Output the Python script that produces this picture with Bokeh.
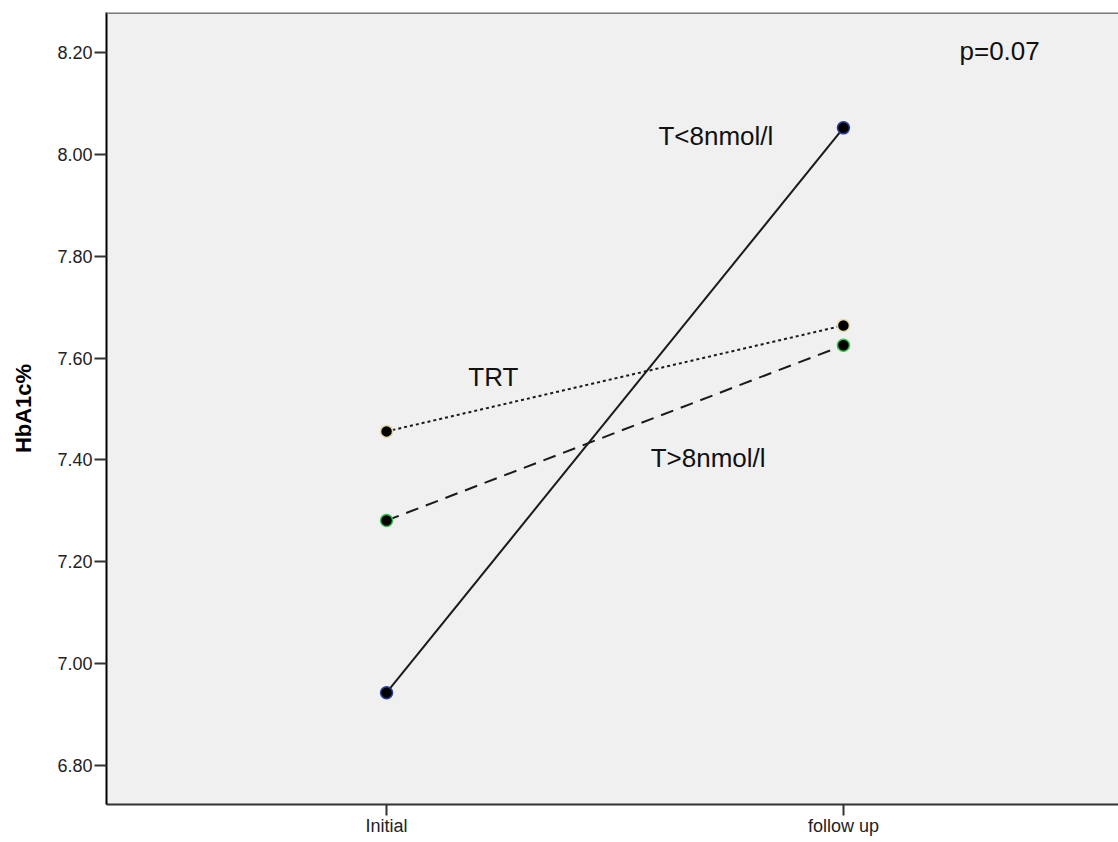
from bokeh.plotting import figure
from bokeh.models import FixedTicker, Range1d, NumeralTickFormatter, Span, ColumnDataSource
from bokeh.core.properties import value
from bokeh.embed import file_html
from bokeh.resources import INLINE

# ---- data ----
timepoints = ["Initial", "follow up"]
y_ticks = [6.80, 7.00, 7.20, 7.40, 7.60, 7.80, 8.00, 8.20]
t_low = [6.943, 8.052]      # T<8nmol/l
trt = [7.456, 7.664]        # TRT
t_high = [7.281, 7.625]     # T>8nmol/l
p_label = "p=0.07"
series_names = ["T<8nmol/l", "TRT", "T>8nmol/l"]

# label anchor positions (x in category index units, y in data units)
label_x = [0.595, 0.179, 0.578, 1.254]
label_y = [8.036, 7.563, 7.404, 8.202]

xs = list(range(len(timepoints)))

p = figure(width=1118, height=842, output_backend="svg", toolbar_location=None,
           x_range=Range1d(-0.613, 1.602), y_range=Range1d(6.7234, 8.2785),
           min_border_left=106, min_border_top=12, min_border_right=0, min_border_bottom=38)

p.background_fill_color = "#f0f0f0"
p.border_fill_color = "white"
p.outline_line_color = None
p.xgrid.visible = False
p.ygrid.visible = False

# top border
p.add_layout(Span(location=8.2785, dimension="width", line_color="#7a7a7a", line_width=3))

font = "Liberation Sans"

# axes
p.yaxis.ticker = FixedTicker(ticks=y_ticks)
p.yaxis.formatter = NumeralTickFormatter(format="0.00")
p.yaxis.axis_label = "HbA1c%"
p.yaxis.axis_label_text_font = font
p.yaxis.axis_label_text_font_size = "22px"
p.yaxis.axis_label_text_font_style = "bold"
p.yaxis.axis_label_text_color = "black"
p.yaxis.axis_label_standoff = 18
p.yaxis.axis_line_color = "black"
p.yaxis.axis_line_width = 2
p.yaxis.major_tick_out = 12
p.yaxis.major_tick_in = 0
p.yaxis.major_tick_line_width = 2
p.yaxis.major_tick_line_color = "#333333"
p.yaxis.minor_tick_line_color = None
p.yaxis.major_label_standoff = 2

p.xaxis.ticker = FixedTicker(ticks=xs)
p.xaxis.major_label_overrides = {i: t for i, t in zip(xs, timepoints)}
p.xaxis.axis_line_color = "#333333"
p.xaxis.axis_line_width = 2
p.xaxis.major_tick_out = 11
p.xaxis.major_tick_in = 0
p.xaxis.major_tick_line_width = 2
p.xaxis.major_tick_line_color = "#333333"
p.xaxis.minor_tick_line_color = None
p.xaxis.major_label_standoff = 0

for ax in (p.xaxis, p.yaxis):
    ax.major_label_text_font = font
    ax.major_label_text_font_size = "18px"
    ax.major_label_text_color = "#222222"

# lines
p.line(xs, t_low, line_color="#1a1a1a", line_width=2)
p.line(xs, trt, line_color="#1a1a1a", line_width=2, line_dash="3 3")
p.line(xs, t_high, line_color="#1a1a1a", line_width=2, line_dash="13 8")

# markers
p.scatter(xs, t_low, size=12, fill_color="black", line_color="#2b3f9e", line_width=1.5)
p.scatter(xs, trt, size=12, fill_color="black", line_color="#e6dba8", line_width=1.5)
p.scatter(xs, t_high, size=12, fill_color="black", line_color="#35c24a", line_width=1.5)

# labels
src = ColumnDataSource(dict(x=label_x, y=label_y, t=series_names + [p_label]))
p.text(x="x", y="y", text="t", source=src, text_font=value(font),
       text_font_size="26px", text_color="#111111",
       text_align="left", text_baseline="alphabetic")

open("out.html", "w").write(file_html(p, INLINE))
